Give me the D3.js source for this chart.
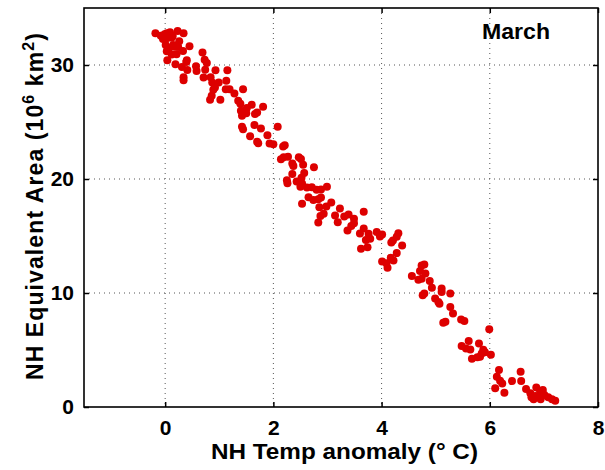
<!DOCTYPE html>
<html>
<head>
<meta charset="utf-8">
<script src="https://cdn.jsdelivr.net/npm/d3@7"></script>
<style>
  body { margin: 0; background: #fff; }
  svg { display: block; font-family: "Liberation Sans", Arial, sans-serif; }
</style>
</head>
<body>
<svg id="chart" width="605" height="470"></svg>
<script>
// NH temperature anomaly (deg C) vs NH equivalent area (10^6 km^2), March
var tempAnomaly = [
  -0.18, -0.08, -0.01, 0.03, 0.09, 0.14, 0.23, 0.34, 0.03, 0.12,
  0.26, 0.45, 0.01, 0.15, 0.17, 0.33, 0.03, 0.12, 0.21, 0.04,
  0.19, 0.40, 0.39, 0.31, 0.41, 0.34, 0.34, -0.04, 0.24, 0.07,
  0.69, 0.73, 0.77, 0.57, 0.58, 0.74, 0.71, 0.84, 0.93, 1.15,
  0.87, 0.99, 1.13, 0.92, 0.89, 0.86, 0.83, 1.02, 1.12, 1.19,
  1.28, 1.44, 1.35, 1.39, 1.40, 1.51, 1.60, 1.50, 1.66, 1.81,
  1.42, 1.70, 1.42, 1.44, 1.65, 1.77, 2.08, 1.57, 1.89, 1.70,
  1.72, 1.93, 2.00, 2.18, 2.21, 2.14, 2.19, 2.27, 2.47, 2.51,
  2.35, 2.37, 2.55, 2.75, 2.35, 2.57, 2.52, 2.25, 2.26, 2.43,
  2.50, 2.62, 2.71, 2.80, 2.88, 2.99, 2.53, 2.65, 2.74, 2.83,
  2.88, 3.07, 2.98, 2.53, 2.85, 3.23, 3.14, 3.19, 2.87, 2.93,
  2.83, 3.31, 3.39, 3.49, 3.49, 3.44, 3.37, 3.67, 3.67, 3.60,
  3.76, 3.71, 3.79, 3.62, 3.74, 3.91, 4.01, 3.97, 4.31, 4.28,
  4.21, 4.18, 4.38, 4.28, 4.01, 4.09, 4.22, 4.17, 4.11, 4.56,
  4.68, 4.74, 4.79, 4.71, 4.81, 4.74, 4.89, 4.93, 4.79, 4.76,
  5.11, 5.11, 5.27, 4.99, 5.05, 5.07, 5.27, 5.32, 5.47, 5.53,
  5.14, 5.18, 5.99, 5.61, 5.48, 5.56, 5.64, 5.80, 5.88, 5.85,
  5.91, 6.02, 5.82, 5.77, 5.67, 6.17, 6.13, 6.19, 6.23, 6.10,
  6.27, 6.41, 6.57, 6.58, 6.67, 6.75, 6.77, 6.86, 6.90, 6.93,
  6.98, 7.01, 6.94, 7.08, 7.15, 7.21, 6.84, 6.81
];
var equivArea = [
  32.78, 32.57, 32.69, 32.78, 32.87, 32.55, 32.98, 32.78, 32.35, 32.40,
  32.08, 31.64, 31.76, 31.76, 31.61, 31.23, 31.21, 30.92, 30.95, 30.42,
  30.07, 30.42, 30.27, 29.83, 29.57, 28.93, 28.67, 32.28, 31.58, 31.50,
  31.10, 30.45, 30.17, 29.88, 29.48, 29.59, 28.90, 28.93, 29.55, 29.55,
  28.46, 28.46, 28.61, 28.02, 27.82, 27.30, 26.95, 26.95, 27.88, 27.88,
  27.50, 27.88, 26.86, 26.60, 25.98, 26.22, 26.51, 25.77, 25.70, 26.33,
  25.55, 25.84, 24.58, 24.37, 24.74, 24.43, 24.58, 23.75, 23.84, 23.27,
  23.14, 23.12, 23.04, 22.84, 22.97, 21.74, 21.90, 21.96, 21.90, 21.76,
  21.35, 21.15, 21.24, 21.04, 20.43, 20.52, 20.12, 19.89, 19.62, 19.77,
  19.31, 19.25, 19.27, 19.05, 19.07, 19.31, 19.60, 18.40, 18.15, 18.22,
  18.37, 17.94, 17.59, 17.82, 17.52, 17.41, 16.80, 16.21, 16.75, 16.95,
  16.19, 16.71, 16.89, 16.51, 16.12, 15.88, 15.49, 17.12, 15.66, 15.22,
  15.20, 14.65, 14.76, 13.88, 14.02, 15.34, 15.14, 14.96, 15.25, 14.93,
  14.61, 14.44, 14.17, 13.50, 12.77, 12.62, 12.86, 13.10, 12.22, 11.50,
  11.17, 12.42, 12.51, 11.94, 11.70, 11.26, 11.05, 10.47, 9.95, 9.80,
  10.39, 10.09, 9.95, 9.51, 9.21, 9.06, 8.78, 8.20, 7.67, 7.55,
  7.38, 7.48, 6.82, 5.80, 5.36, 5.14, 5.05, 5.57, 5.03, 4.70,
  4.81, 4.59, 4.40, 4.37, 4.23, 3.24, 2.65, 2.30, 2.07, 1.64,
  1.25, 2.27, 3.09, 2.27, 1.57, 1.20, 0.85, 1.72, 0.85, 1.34,
  1.49, 1.05, 0.67, 0.85, 0.67, 0.55, 0.96, 0.67
];
var xTicks = [0, 2, 4, 6, 8];
var yTicks = [0, 10, 20, 30];
var panelTitle = "March";

var chart = (function () {
  var self = {};
  var svg = d3.select("#chart");
  var pLeft = 84, pRight = 598, pTop = 8, pBottom = 407;

  var x = d3.scaleLinear().domain([-1.5, 8]).range([pLeft, pRight]);
  var y = d3.scaleLinear().domain([0, 35]).range([pBottom, pTop]);

  self.draw = function () {
    // dotted grid
    var grid = svg.append("g").attr("class", "grid");
    grid.selectAll(".gx").data(xTicks.filter(function (d) { return d > -1.5 && d < 8; }))
      .enter().append("line")
      .attr("x1", function (d) { return x(d); }).attr("x2", function (d) { return x(d); })
      .attr("y1", pTop).attr("y2", pBottom)
      .attr("stroke", "#555").attr("stroke-width", 1).attr("stroke-dasharray", "1,4");
    grid.selectAll(".gy").data(yTicks.filter(function (d) { return d > 0 && d < 35; }))
      .enter().append("line")
      .attr("y1", function (d) { return y(d); }).attr("y2", function (d) { return y(d); })
      .attr("x1", pLeft).attr("x2", pRight)
      .attr("stroke", "#555").attr("stroke-width", 1).attr("stroke-dasharray", "1,4");

    // points
    var pts = tempAnomaly.map(function (t, i) { return [t, equivArea[i]]; });
    svg.append("g").selectAll("circle").data(pts).enter().append("circle")
      .attr("cx", function (d) { return x(d[0]); })
      .attr("cy", function (d) { return y(d[1]); })
      .attr("r", 4)
      .attr("fill", "#dd0000");

    // axes, ticks pointing inward on all four sides
    var gx = svg.append("g").attr("transform", "translate(0," + pBottom + ")")
      .call(d3.axisBottom(x).tickValues(xTicks).tickSize(-5).tickPadding(13).tickSizeOuter(0));
    var gy = svg.append("g").attr("transform", "translate(" + pLeft + ",0)")
      .call(d3.axisLeft(y).tickValues(yTicks).tickSize(-5).tickPadding(10).tickSizeOuter(0));
    svg.append("g").attr("transform", "translate(0," + pTop + ")")
      .call(d3.axisTop(x).tickValues(xTicks).tickSize(-5).tickSizeOuter(0).tickFormat(""));
    svg.append("g").attr("transform", "translate(" + pRight + ",0)")
      .call(d3.axisRight(y).tickValues(yTicks).tickSize(-5).tickSizeOuter(0).tickFormat(""));

    svg.selectAll(".domain").remove();
    svg.selectAll(".tick line").attr("stroke", "#000").attr("stroke-width", 1.5);
    gx.selectAll("text").attr("font-size", 21).attr("font-weight", "bold").attr("fill", "#000");
    gy.selectAll("text").attr("font-size", 21).attr("font-weight", "bold").attr("fill", "#000");

    // box
    svg.append("rect")
      .attr("x", pLeft).attr("y", pTop)
      .attr("width", pRight - pLeft).attr("height", pBottom - pTop)
      .attr("fill", "none").attr("stroke", "#000").attr("stroke-width", 1.6);

    // labels
    svg.append("text")
      .attr("x", 211).attr("y", 459)
      .attr("font-size", 22).attr("font-weight", "bold")
      .attr("textLength", 267).attr("lengthAdjust", "spacingAndGlyphs")
      .text("NH Temp anomaly (° C)");

    var yl = svg.append("text")
      .attr("transform", "translate(43,206) rotate(-90)")
      .attr("text-anchor", "middle").attr("font-size", 23).attr("font-weight", "bold")
      .attr("letter-spacing", 1.1);
    yl.append("tspan").text("NH Equivalent Area (10");
    yl.append("tspan").attr("dy", -9).attr("font-size", 16).text("6");
    yl.append("tspan").attr("dy", 9).text(" km");
    yl.append("tspan").attr("dy", -9).attr("font-size", 16).text("2");
    yl.append("tspan").attr("dy", 9).text(")");

    svg.append("text")
      .attr("x", 482).attr("y", 39)
      .attr("font-size", 22).attr("font-weight", "bold")
      .attr("textLength", 68).attr("lengthAdjust", "spacingAndGlyphs")
      .text(panelTitle);
  };

  return self;
})();

chart.draw();
</script>
</body>
</html>
